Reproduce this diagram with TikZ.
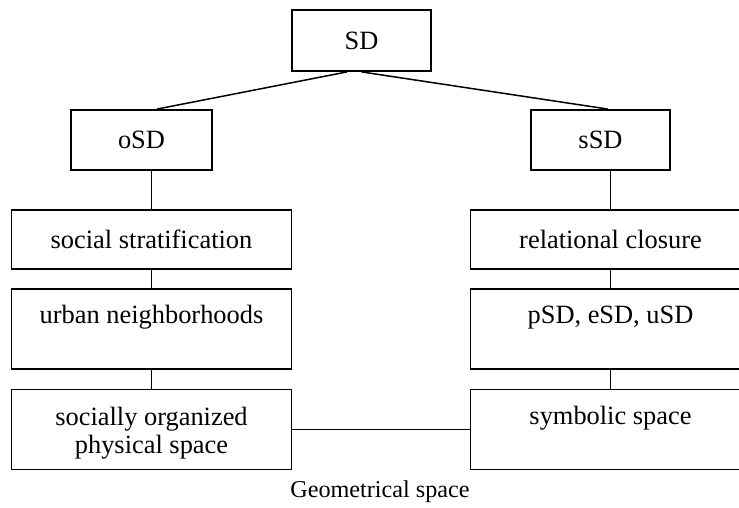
\documentclass[tikz,border=0pt]{standalone}
\usepackage{fontspec}
\setmainfont{Liberation Serif}
\usepackage{tikz}
\usetikzlibrary{positioning}
\newcommand{\boxstrut}{\rule{0pt}{13pt}}
\tikzstyle{line} = [line width=0.75pt, color=black]
\tikzstyle{conceptbox} = [rectangle, draw=black, line width=0.9pt, text centered, align=center, inner sep=0pt, font=\fontsize{13.2}{14}\selectfont]
\tikzstyle{smallbox} = [conceptbox, minimum width=69.5pt, minimum height=30pt]
\tikzstyle{widebox} = [conceptbox, minimum width=140pt, minimum height=29.5pt]
\tikzstyle{tallbox} = [widebox, minimum height=40pt]

\begin{document}
\begin{tikzpicture}[x=0.5pt, y=-0.5pt]
\useasboundingbox (0,0) rectangle (739,508);
% Top levels
\node (sd) [smallbox, minimum height=30.5pt] at (361.5,40.5) {SD};
\node (osd) [smallbox, minimum width=70.5pt] at (141.5,140) {oSD};
\node (ssd) [smallbox] at (600.5,140) {sSD};

% Objective side
\node (strat) [widebox] at (151.5,239.5) {social stratification};
\node (urban) [tallbox, below of=strat, node distance=44.75pt] {\boxstrut urban neighborhoods\\\strut};
\node (phys) [tallbox, below of=urban, node distance=50.25pt] {\boxstrut socially organized\\physical space};

% Subjective side
\node (closure) [widebox] at (610.5,239.5) {relational closure};
\node (types) [tallbox, below of=closure, node distance=44.75pt] {\boxstrut pSD, eSD, uSD\\\strut};
\node (symb) [tallbox, below of=types, node distance=50.25pt] {\boxstrut symbolic space\\\strut};

% Connections
\draw[line] ([xshift=-7.25pt]sd.south) -- ([xshift=7.75pt]osd.north);
\draw[line] (sd.south) -- ([xshift=3.75pt]ssd.north);
\draw[line] (osd.south -| strat.north) -- (strat.north);
\draw[line] (strat) -- (urban);
\draw[line] (urban) -- (phys);
\draw[line] (ssd.south -| closure.north) -- (closure.north);
\draw[line] (closure) -- (types);
\draw[line] (types) -- (symb);
\draw[line] (phys) -- (symb);

% Caption
\node (geom) [font=\fontsize{12.1}{14}\selectfont] at (380,492) {Geometrical space};
\end{tikzpicture}
\end{document}
